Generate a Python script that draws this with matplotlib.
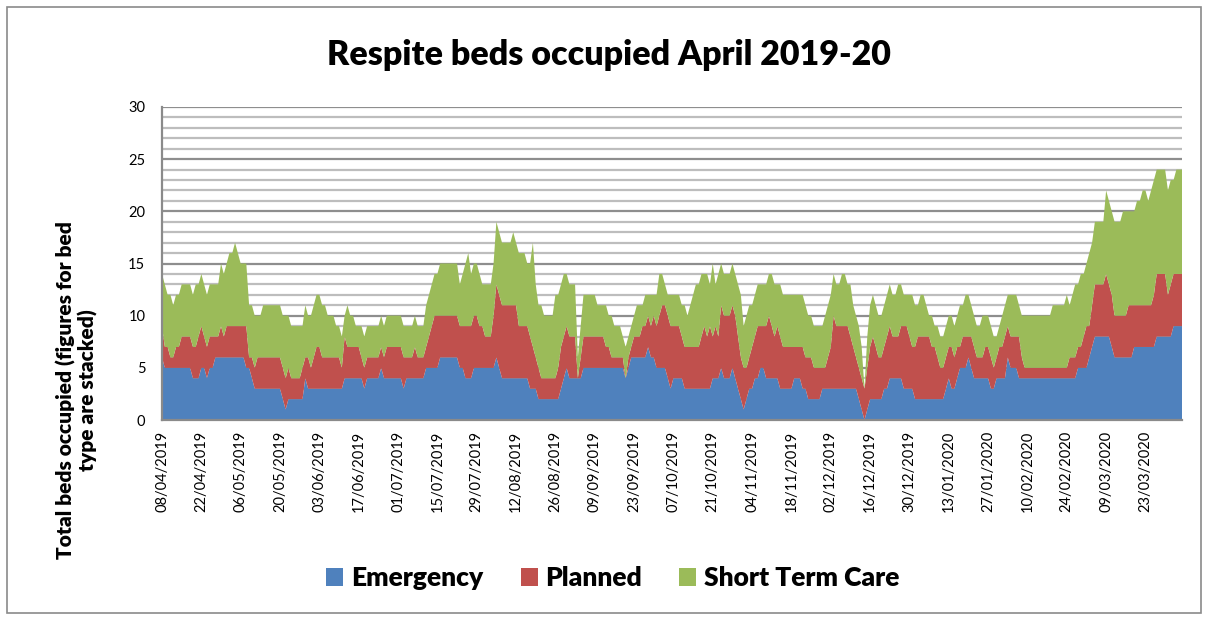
import numpy as np
import matplotlib
matplotlib.use("Agg")
import matplotlib.pyplot as plt
from matplotlib.patches import Patch

plt.rcParams['font.family'] = ['Lato', 'DejaVu Sans']

# daily values, 08/04/2019 .. 05/04/2020 (one row per fortnight)
emergency = [
    6, 5, 5, 5, 5, 5, 5, 5, 5, 5, 5, 4, 4, 4,
    5, 5, 4, 5, 5, 6, 6, 6, 6, 6, 6, 6, 6, 6,
    6, 6, 5, 5, 4, 3, 3, 3, 3, 3, 3, 3, 3, 3,
    3, 2, 1, 2, 2, 2, 2, 2, 2, 4, 3, 3, 3, 3,
    3, 3, 3, 3, 3, 3, 3, 3, 3, 4, 4, 4, 4, 4,
    4, 4, 3, 4, 4, 4, 4, 4, 5, 4, 4, 4, 4, 4,
    4, 4, 3, 4, 4, 4, 4, 4, 4, 4, 5, 5, 5, 5,
    5, 6, 6, 6, 6, 6, 6, 6, 5, 5, 4, 4, 4, 5,
    5, 5, 5, 5, 5, 5, 5, 6, 5, 4, 4, 4, 4, 4,
    4, 4, 4, 4, 4, 3, 3, 3, 2, 2, 2, 2, 2, 2,
    2, 2, 3, 4, 5, 4, 4, 4, 4, 4, 5, 5, 5, 5,
    5, 5, 5, 5, 5, 5, 5, 5, 5, 5, 5, 4, 5, 6,
    6, 6, 6, 6, 6, 7, 6, 6, 5, 5, 5, 5, 4, 3,
    4, 4, 4, 4, 3, 3, 3, 3, 3, 3, 3, 3, 3, 3,
    4, 4, 4, 5, 4, 4, 4, 5, 4, 3, 2, 1, 2, 3,
    3, 4, 4, 5, 5, 4, 4, 4, 4, 4, 3, 3, 3, 3,
    3, 4, 4, 4, 3, 3, 2, 2, 2, 2, 2, 3, 3, 3,
    3, 3, 3, 3, 3, 3, 3, 3, 3, 3, 2, 1, 0, 1,
    2, 2, 2, 2, 2, 3, 3, 4, 4, 4, 4, 4, 3, 3,
    3, 3, 2, 2, 2, 2, 2, 2, 2, 2, 2, 2, 2, 3,
    4, 3, 3, 4, 5, 5, 5, 6, 5, 4, 4, 4, 4, 4,
    4, 3, 3, 4, 4, 4, 4, 6, 5, 5, 5, 4, 4, 4,
    4, 4, 4, 4, 4, 4, 4, 4, 4, 4, 4, 4, 4, 4,
    4, 4, 4, 4, 5, 5, 5, 5, 6, 7, 8, 8, 8, 8,
    8, 8, 7, 6, 6, 6, 6, 6, 6, 6, 7, 7, 7, 7,
    7, 7, 7, 7, 8, 8, 8, 8, 8, 8, 9, 9, 9, 9,
]

planned = [
    3, 2, 2, 1, 1, 2, 2, 3, 3, 3, 3, 3, 3, 4,
    4, 3, 3, 3, 3, 2, 2, 3, 2, 3, 3, 3, 3, 3,
    3, 3, 4, 1, 2, 2, 3, 3, 3, 3, 3, 3, 3, 3,
    3, 3, 3, 3, 2, 2, 2, 2, 3, 2, 3, 2, 3, 4,
    4, 3, 3, 3, 3, 3, 3, 3, 2, 4, 3, 3, 3, 3,
    3, 2, 2, 2, 2, 2, 2, 2, 2, 2, 3, 3, 3, 3,
    3, 3, 3, 2, 2, 2, 3, 2, 2, 2, 2, 3, 4, 5,
    5, 4, 4, 4, 4, 4, 4, 4, 4, 4, 5, 5, 5, 5,
    5, 4, 4, 3, 3, 3, 5, 7, 7, 7, 7, 7, 7, 7,
    7, 5, 5, 5, 5, 5, 4, 3, 3, 2, 2, 2, 2, 2,
    2, 3, 4, 4, 4, 4, 4, 4, 0, 2, 3, 3, 3, 3,
    3, 3, 3, 3, 2, 2, 1, 1, 1, 1, 1, 0, 1, 1,
    2, 2, 2, 3, 3, 3, 3, 4, 4, 5, 6, 6, 6, 6,
    5, 5, 5, 4, 4, 4, 4, 4, 4, 4, 5, 6, 5, 6,
    4, 5, 4, 6, 6, 6, 6, 6, 6, 5, 4, 4, 3, 3,
    4, 4, 5, 4, 4, 5, 6, 5, 4, 5, 5, 4, 4, 4,
    4, 3, 3, 3, 4, 3, 4, 4, 3, 3, 3, 2, 2, 3,
    4, 7, 6, 6, 6, 6, 6, 5, 4, 3, 3, 3, 3, 4,
    5, 6, 5, 4, 4, 4, 5, 5, 4, 4, 4, 5, 6, 6,
    5, 4, 5, 6, 6, 6, 6, 6, 5, 5, 4, 3, 3, 3,
    3, 4, 3, 3, 2, 3, 3, 2, 3, 3, 2, 2, 2, 3,
    3, 3, 2, 2, 3, 3, 4, 3, 3, 3, 3, 4, 2, 1,
    1, 1, 1, 1, 1, 1, 1, 1, 1, 1, 1, 1, 1, 1,
    1, 2, 2, 2, 2, 2, 3, 4, 3, 4, 5, 5, 5, 5,
    6, 5, 5, 4, 4, 4, 4, 4, 5, 5, 4, 4, 4, 4,
    4, 4, 4, 5, 6, 6, 6, 6, 4, 5, 5, 5, 5, 5,
]

short_term = [
    5, 6, 5, 6, 5, 5, 5, 5, 5, 5, 5, 5, 6, 5,
    5, 5, 5, 5, 5, 5, 5, 6, 6, 6, 7, 7, 8, 7,
    6, 6, 6, 5, 5, 5, 4, 4, 5, 5, 5, 5, 5, 5,
    5, 5, 6, 5, 5, 5, 5, 5, 4, 5, 4, 5, 5, 5,
    5, 5, 5, 4, 4, 4, 3, 3, 3, 2, 4, 3, 3, 2,
    2, 3, 3, 3, 3, 3, 3, 3, 3, 3, 3, 3, 3, 3,
    3, 3, 3, 3, 3, 3, 3, 3, 3, 3, 4, 4, 4, 4,
    4, 5, 5, 5, 5, 5, 5, 5, 4, 5, 6, 7, 5, 5,
    5, 5, 4, 5, 5, 5, 5, 6, 6, 6, 6, 6, 6, 7,
    6, 7, 7, 7, 6, 7, 10, 7, 6, 7, 6, 6, 6, 6,
    8, 7, 6, 6, 5, 5, 5, 5, 2, 3, 4, 4, 4, 4,
    4, 3, 3, 3, 4, 3, 4, 3, 3, 3, 2, 3, 2, 2,
    2, 3, 3, 2, 3, 2, 3, 2, 3, 4, 3, 2, 2, 3,
    3, 3, 3, 3, 4, 3, 4, 5, 6, 6, 6, 5, 6, 4,
    7, 4, 6, 4, 4, 4, 4, 4, 4, 5, 6, 4, 5, 5,
    4, 4, 4, 4, 4, 4, 4, 5, 5, 4, 5, 5, 5, 5,
    5, 5, 5, 5, 5, 5, 4, 4, 4, 4, 4, 4, 5, 5,
    5, 4, 4, 4, 5, 5, 4, 5, 4, 4, 4, 3, 0, 3,
    4, 4, 4, 4, 4, 4, 4, 4, 4, 4, 5, 4, 3, 3,
    4, 5, 4, 3, 4, 4, 3, 2, 3, 2, 3, 3, 3, 3,
    3, 3, 3, 3, 4, 3, 4, 4, 3, 3, 3, 3, 4, 3,
    3, 3, 3, 2, 2, 3, 3, 3, 4, 4, 4, 3, 4, 5,
    5, 5, 5, 5, 5, 5, 5, 5, 5, 6, 6, 6, 6, 6,
    7, 5, 6, 7, 6, 7, 6, 6, 7, 6, 6, 6, 6, 6,
    8, 8, 8, 9, 9, 9, 10, 10, 9, 9, 9, 10, 10, 11,
    11, 10, 11, 11, 10, 10, 10, 10, 10, 10, 9, 10, 10, 10,
]

date_labels = [
    "08/04/2019", "22/04/2019", "06/05/2019", "20/05/2019", "03/06/2019",
    "17/06/2019", "01/07/2019", "15/07/2019", "29/07/2019", "12/08/2019",
    "26/08/2019", "09/09/2019", "23/09/2019", "07/10/2019", "21/10/2019",
    "04/11/2019", "18/11/2019", "02/12/2019", "16/12/2019", "30/12/2019",
    "13/01/2020", "27/01/2020", "10/02/2020", "24/02/2020", "09/03/2020",
    "23/03/2020",
]
series_names = ["Emergency", "Planned", "Short Term Care"]
colors = ["#4F81BD", "#C0504D", "#9BBB59"]

days = np.arange(len(emergency))

fig = plt.figure(figsize=(12.05, 6.17), dpi=100)
ax = fig.add_axes([162 / 1205, 1 - 420 / 617, 1020 / 1205, 313 / 617])

ax.stackplot(days, emergency, planned, short_term, colors=colors, linewidth=0, zorder=3)

ax.set_xlim(0, days[-1])
ax.set_ylim(0, 30)
ax.set_yticks(range(0, 31, 5))
ax.set_yticks(range(0, 31), minor=True)
ax.grid(which='minor', axis='y', color='#bdbdbd', linewidth=1.6, zorder=0)
ax.grid(which='major', axis='y', color='#8e8e8e', linewidth=1.6, zorder=0)
ax.set_xticks(days[::14][:len(date_labels)])
ax.set_xticklabels(date_labels, rotation=90, fontsize=10.5)
ax.tick_params(axis='both', which='both', length=0)
ax.tick_params(axis='y', labelsize=10.5, pad=12)
ax.tick_params(axis='x', pad=8)

for s in ['top', 'right']:
    ax.spines[s].set_visible(False)
for s in ['left', 'bottom']:
    ax.spines[s].set_color('#8a8a8a')
    ax.spines[s].set_linewidth(1.6)
    ax.spines[s].set_zorder(5)

fig.text(609 / 1205, 1 - 55 / 617, "Respite beds occupied April 2019-20",
         ha='center', va='center', fontsize=24.5, fontweight='heavy')
fig.text(77 / 1205, 1 - 390 / 617, "Total beds occupied (figures for bed\ntype are stacked)",
         ha='center', va='center', rotation=90, fontsize=15, fontweight='heavy',
         multialignment='center', linespacing=1.15)

handles = [Patch(facecolor=c, edgecolor='none') for c in colors]
fig.legend(handles, series_names, loc='center', bbox_to_anchor=(613 / 1205, 1 - 578 / 617),
           ncol=3, frameon=False, prop={'weight': 'heavy', 'size': 19},
           handlelength=0.65, handleheight=0.65, handletextpad=0.3, columnspacing=1.4)

# chart border
fig.patches.append(plt.Rectangle((7 / 1205, 4 / 617), 1194 / 1205, 606 / 617,
                                 transform=fig.transFigure, fill=False,
                                 edgecolor='#8a8a8a', linewidth=1.2))

fig.savefig("out.png", dpi=100)
